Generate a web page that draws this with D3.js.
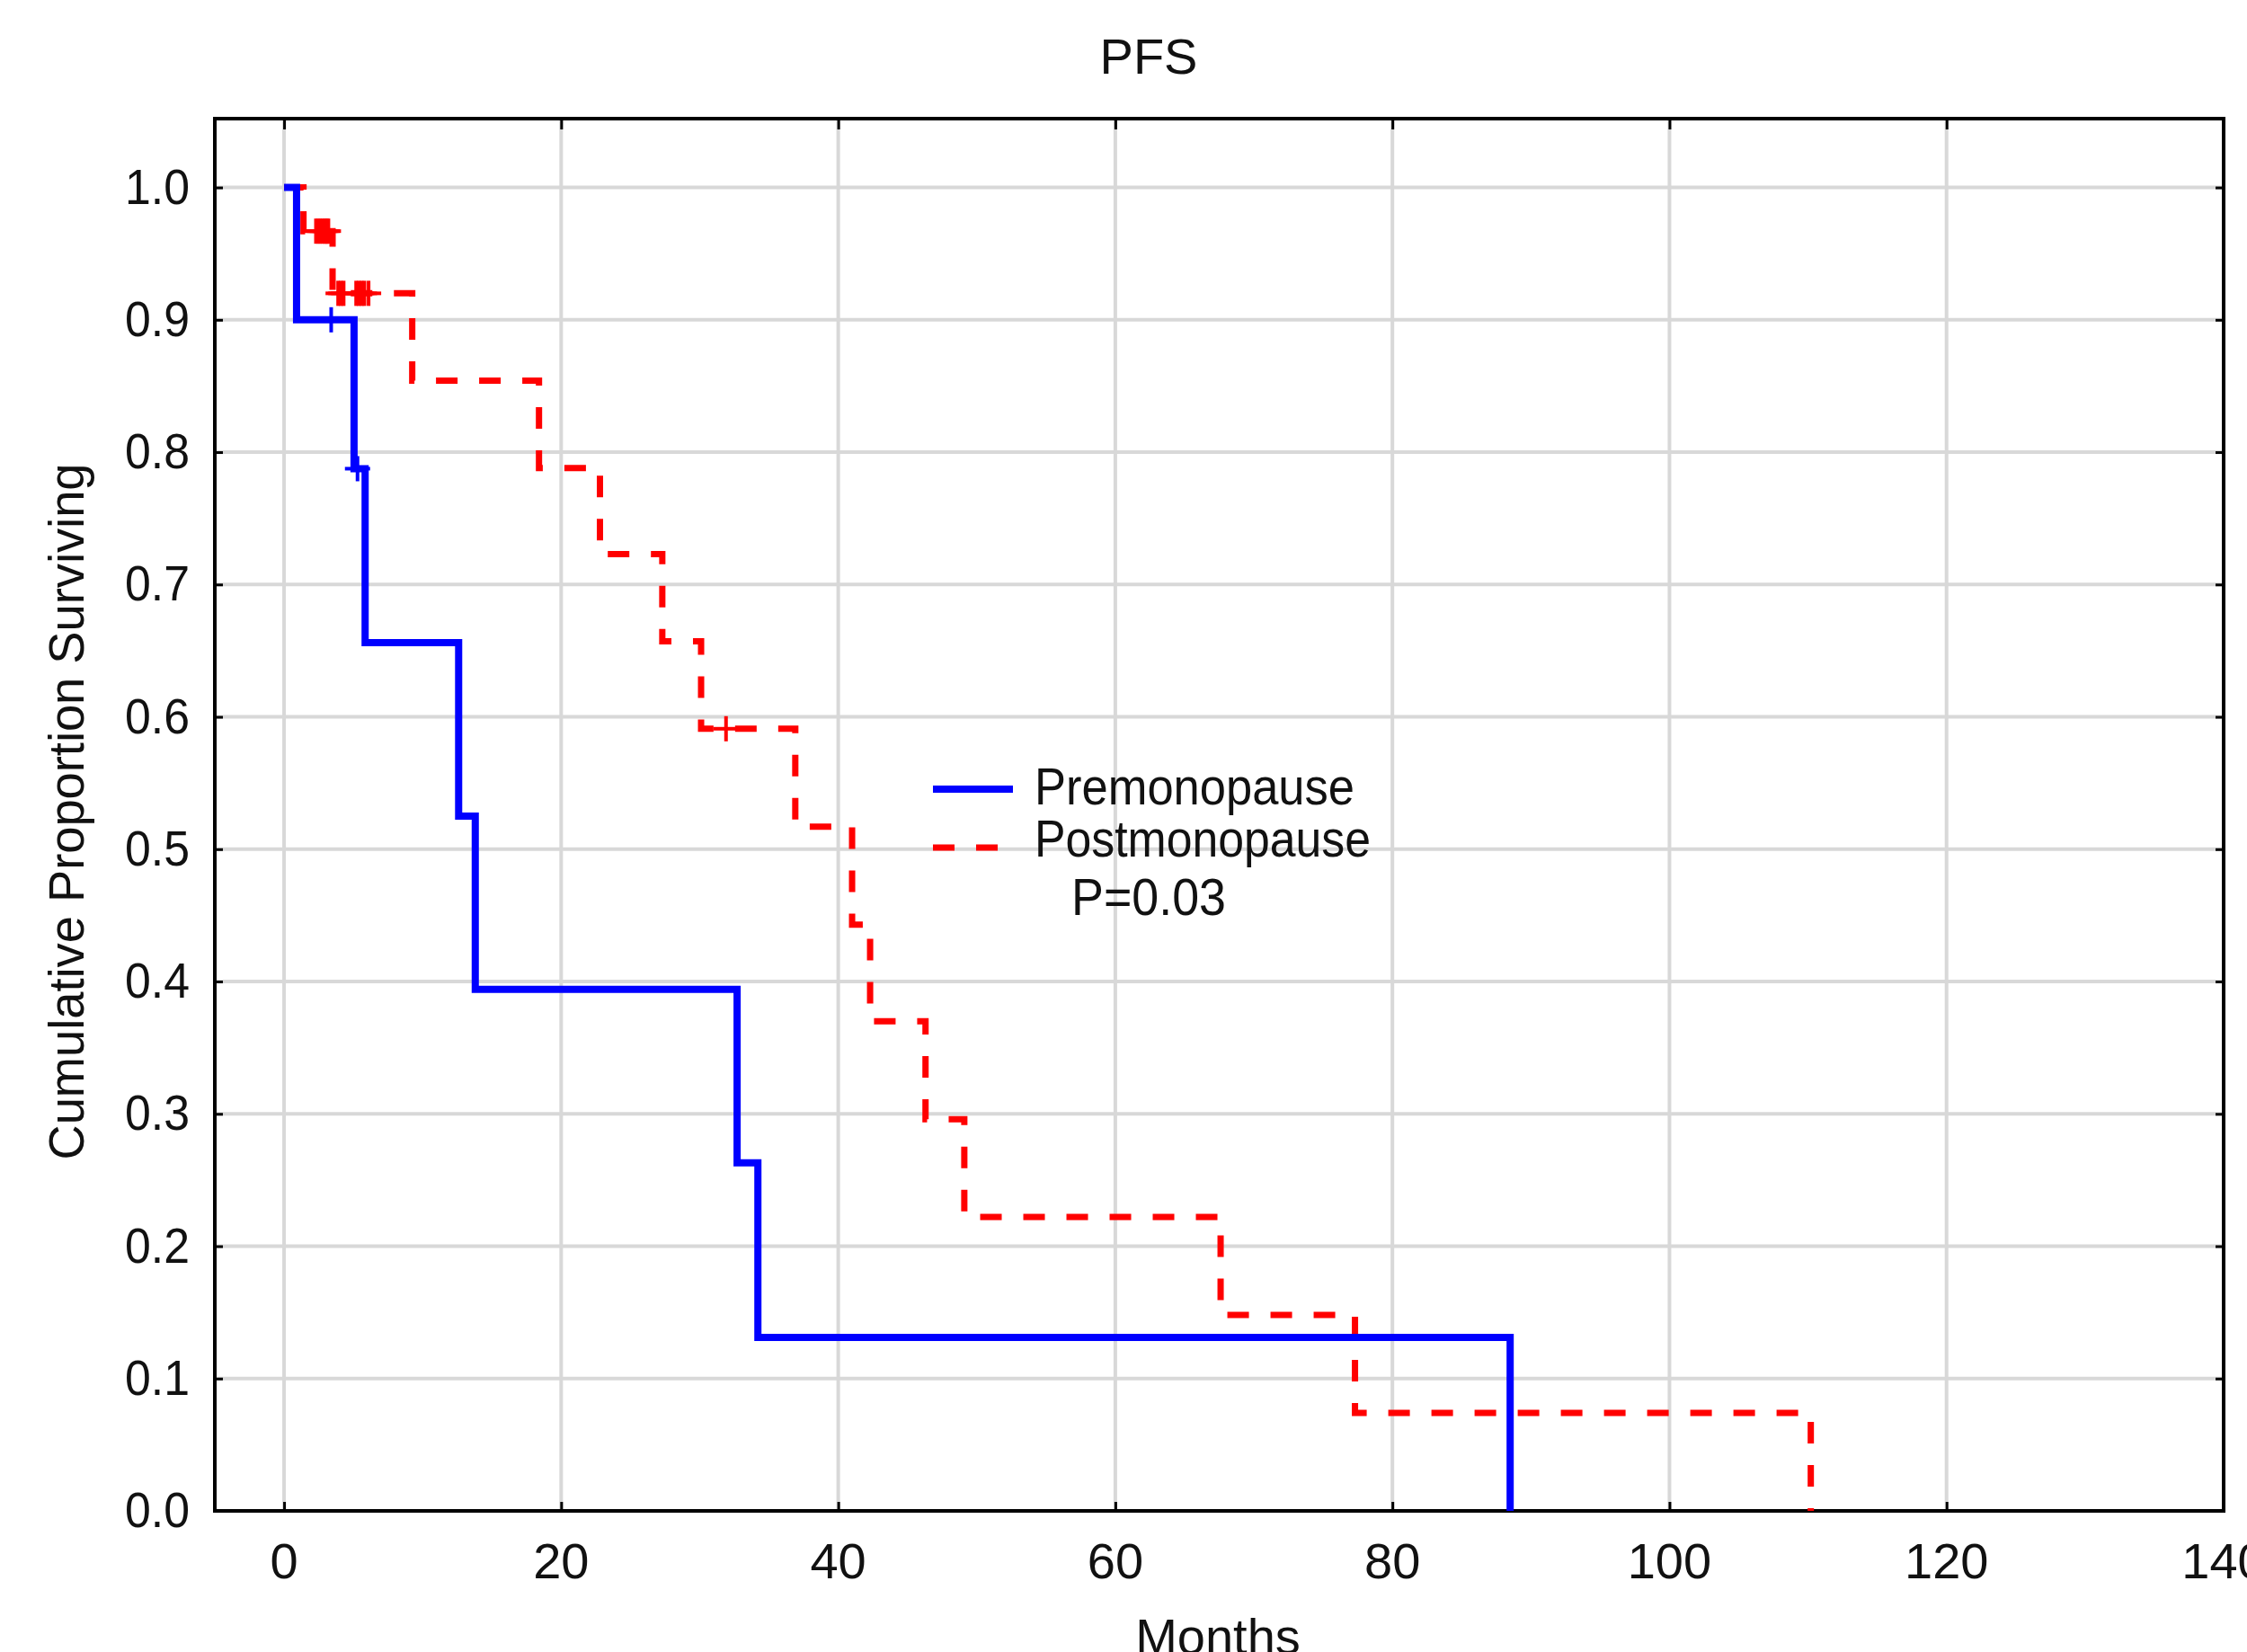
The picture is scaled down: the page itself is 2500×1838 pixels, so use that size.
<!DOCTYPE html>
<html><head><meta charset="utf-8">
<script src="https://cdn.jsdelivr.net/npm/d3@7"></script>
<style>html,body{margin:0;padding:0;background:#fff;}svg{display:block;}</style>
</head><body>
<script>
// ---- data ----
const xTicks = [0, 20, 40, 60, 80, 100, 120, 140];
const yTicks = [0.0, 0.1, 0.2, 0.3, 0.4, 0.5, 0.6, 0.7, 0.8, 0.9, 1.0];

const seriesNames = ["Premonopause", "Postmonopause"];
const pText = "P=0.03";

// Premonopause (blue, solid) step curve
const preTimes = [0, 0.9, 5.05, 5.85, 12.6, 13.8, 32.7, 34.2, 88.5];
const preSurv  = [1.0, 0.9, 0.7875, 0.656, 0.525, 0.394, 0.263, 0.131, 0.0];
const preCensorTimes = [3.4, 5.3];
const preCensorSurv  = [0.9, 0.7875];

// Postmonopause (red, dashed) step curve
const postTimes = [0, 1.4, 3.5, 9.25, 18.4, 22.8, 27.3, 30.1, 36.9, 41.0, 42.3, 46.3, 49.1, 67.6, 77.3, 110.2];
const postSurv  = [1.0, 0.967, 0.92, 0.854, 0.788, 0.723, 0.657, 0.591, 0.517, 0.443, 0.37, 0.296, 0.222, 0.148, 0.074, 0.0];
const postCensorTimes = [2.3, 2.45, 2.6, 2.75, 2.9, 3.0, 3.1, 3.2,
                         3.9, 4.1, 4.3, 5.2, 5.4, 5.6, 5.8, 6.1,
                         31.9];
const postCensorSurv  = [0.967, 0.967, 0.967, 0.967, 0.967, 0.967, 0.967, 0.967,
                         0.92, 0.92, 0.92, 0.92, 0.92, 0.92, 0.92, 0.92,
                         0.591];

// ---- layout ----
const W = 2500, H = 1838;
const L = 239, R = 2474, T = 132, B = 1681;
const FONT = "'Liberation Sans', Arial, Helvetica, sans-serif";

const svg = d3.select("body").append("svg")
  .attr("width", W).attr("height", H)
  .attr("viewBox", `0 0 ${W} ${H}`)
  .style("font-family", FONT);

svg.append("rect").attr("width", W).attr("height", H).attr("fill", "#fff");

const x = d3.scaleLinear().domain([-5, 140]).range([L, R]);
const y = d3.scaleLinear().domain([0, 1.052]).range([B, T]);

// gridlines
const grid = svg.append("g");
grid.selectAll("line.v").data(xTicks.filter(d => d < 140)).join("line")
  .attr("x1", d => x(d)).attr("x2", d => x(d))
  .attr("y1", T).attr("y2", B)
  .attr("stroke", "#d8d8d8").attr("stroke-width", 4);
grid.selectAll("line.h").data(yTicks.filter(d => d > 0)).join("line")
  .attr("x1", L).attr("x2", R)
  .attr("y1", d => y(d)).attr("y2", d => y(d))
  .attr("stroke", "#d8d8d8").attr("stroke-width", 4);

// axes (inward ticks, labels added separately)
const axB = svg.append("g").attr("transform", `translate(0,${B})`)
  .call(d3.axisTop(x).tickValues(xTicks).tickSize(10).tickFormat(""));
const axT = svg.append("g").attr("transform", `translate(0,${T})`)
  .call(d3.axisBottom(x).tickValues(xTicks).tickSize(12).tickFormat(""));
const axL = svg.append("g").attr("transform", `translate(${L},0)`)
  .call(d3.axisRight(y).tickValues(yTicks).tickSize(9).tickFormat(""));
const axR = svg.append("g").attr("transform", `translate(${R},0)`)
  .call(d3.axisLeft(y).tickValues(yTicks).tickSize(9).tickFormat(""));
[axB, axT, axL, axR].forEach(g => {
  g.select(".domain").remove();
  g.selectAll(".tick line").attr("stroke", "#000").attr("stroke-width", 3);
});

// tick labels
svg.append("g").selectAll("text").data(xTicks).join("text")
  .attr("x", d => x(d)).attr("y", 1756)
  .attr("text-anchor", "middle").attr("font-size", 56).attr("fill", "#111")
  .text(d => d);
svg.append("g").selectAll("text").data(yTicks).join("text")
  .attr("x", 211).attr("y", d => y(d) + 18)
  .attr("text-anchor", "end").attr("font-size", 56).attr("fill", "#111")
  .attr("textLength", 72).attr("lengthAdjust", "spacingAndGlyphs")
  .text(d => d3.format(".1f")(d));

// frame
svg.append("rect").attr("x", L).attr("y", T).attr("width", R - L).attr("height", B - T)
  .attr("fill", "none").attr("stroke", "#000").attr("stroke-width", 4);

// curves
const line = d3.line().x(d => x(d[0])).y(d => y(d[1])).curve(d3.curveStepAfter);
const preData = preTimes.map((t, i) => [t, preSurv[i]]);
const postData = postTimes.map((t, i) => [t, postSurv[i]]);

svg.append("path").attr("d", line(postData))
  .attr("fill", "none").attr("stroke", "#ff0000").attr("stroke-width", 7)
  .attr("stroke-dasharray", "24,24");
svg.append("path").attr("d", line(preData))
  .attr("fill", "none").attr("stroke", "#0000ff").attr("stroke-width", 8);

// censor marks (+)
function censor(times, surv, color) {
  const g = svg.append("g").attr("stroke", color).attr("stroke-width", 4);
  times.forEach((t, i) => {
    const cx = x(t), cy = y(surv[i]);
    g.append("line").attr("x1", cx).attr("x2", cx).attr("y1", cy - 14).attr("y2", cy + 14);
    g.append("line").attr("x1", cx - 14).attr("x2", cx + 14).attr("y1", cy).attr("y2", cy);
  });
}
censor(postCensorTimes, postCensorSurv, "#ff0000");
censor(preCensorTimes, preCensorSurv, "#0000ff");

// titles
svg.append("text").attr("x", 1278).attr("y", 82).attr("text-anchor", "middle")
  .attr("font-size", 56).attr("fill", "#111").text("PFS");
svg.append("text").attr("x", 1355).attr("y", 1840).attr("text-anchor", "middle")
  .attr("font-size", 56).attr("fill", "#111").text("Months");
svg.append("text").attr("transform", "translate(93,903) rotate(-90)")
  .attr("text-anchor", "middle").attr("font-size", 56).attr("fill", "#111")
  .attr("textLength", 775).attr("lengthAdjust", "spacingAndGlyphs")
  .text("Cumulative Proportion Surviving");

// legend
const lg = svg.append("g");
lg.append("line").attr("x1", 1038).attr("x2", 1127).attr("y1", 878).attr("y2", 878)
  .attr("stroke", "#0000ff").attr("stroke-width", 8);
lg.append("line").attr("x1", 1038).attr("x2", 1111).attr("y1", 943).attr("y2", 943)
  .attr("stroke", "#ff0000").attr("stroke-width", 7).attr("stroke-dasharray", "24,24");
lg.append("text").attr("x", 1151).attr("y", 895).attr("font-size", 57).attr("fill", "#111")
  .attr("textLength", 356).attr("lengthAdjust", "spacingAndGlyphs").text(seriesNames[0]);
lg.append("text").attr("x", 1151).attr("y", 953).attr("font-size", 57).attr("fill", "#111")
  .attr("textLength", 374).attr("lengthAdjust", "spacingAndGlyphs").text(seriesNames[1]);
lg.append("text").attr("x", 1192).attr("y", 1018).attr("font-size", 57).attr("fill", "#111")
  .attr("textLength", 172).attr("lengthAdjust", "spacingAndGlyphs").text(pText);
</script>
</body></html>
